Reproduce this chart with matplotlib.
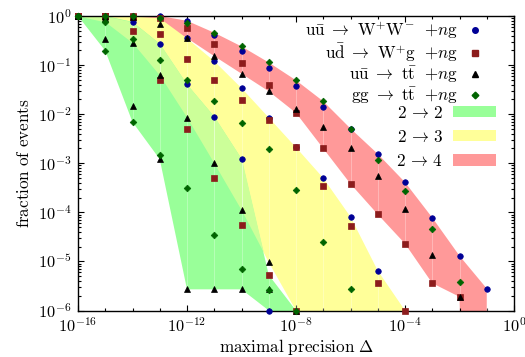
import numpy as np
import matplotlib
matplotlib.use('Agg')
import matplotlib.pyplot as plt
from matplotlib.lines import Line2D
from matplotlib.patches import Patch
from matplotlib.ticker import FixedLocator, LogLocator, NullFormatter

plt.rcParams['mathtext.fontset'] = 'cm'
plt.rcParams['font.family'] = 'serif'
plt.rcParams['font.size'] = 12.3

# maximal precision Delta, one point per decade (1e-16 ... 1e0)
delta = 10.0 ** np.arange(-16, 1)

# fraction of events, 0 = no event left
ww_22 = [1, 1, 0.76, 0.272, 0.0405, 0.0089, 0.00123, 1e-6, 0, 0, 0, 0, 0, 0, 0, 0, 0]
ww_23 = [1, 1, 0.98, 0.9, 0.35, 0.12, 0.034, 0.0085, 0.0021, 5.0e-4, 8.1e-5, 6.5e-6, 0, 0, 0, 0, 0]
ww_24 = [1, 1, 1, 1, 0.8, 0.41, 0.196, 0.0885, 0.0369, 0.014, 0.0051, 0.00155, 4.1e-4, 7.8e-5, 1.3e-5, 2.8e-6, 0]

wg_22 = [1, 1, 0.5, 0.049, 0.0049, 4.9e-4, 5.4e-5, 5.3e-6, 1e-6, 0, 0, 0, 0, 0, 0, 0, 0]
wg_23 = [1, 1, 0.95, 0.42, 0.135, 0.049, 0.0192, 0.0075, 0.0021, 3.5e-4, 5.2e-5, 3.6e-6, 1e-6, 0, 0, 0, 0]
wg_24 = [1, 1, 1, 0.9, 0.575, 0.272, 0.112, 0.04, 0.0106, 0.002, 3.8e-4, 9.1e-5, 2.3e-5, 3.6e-6, 1.9e-6, 0, 0]

tt_22 = [1, 0.333, 0.015, 0.00121, 2.7e-6, 2.7e-6, 2.7e-6, 2.7e-6, 0, 0, 0, 0, 0, 0, 0, 0, 0]
tt_23 = [1, 0.9, 0.285, 0.0618, 0.0085, 9.9e-4, 1.1e-4, 9.6e-6, 1e-6, 0, 0, 0, 0, 0, 0, 0, 0]
tt_24 = [1, 1, 0.95, 0.69, 0.354, 0.152, 0.0668, 0.0292, 0.0126, 0.0055, 0.002, 5.5e-4, 1.17e-4, 1.36e-5, 1.9e-6, 0, 0]

gg_22 = [1, 0.196, 0.0069, 0.0015, 3.1e-4, 3.4e-5, 7.0e-6, 2.64e-6, 1e-6, 0, 0, 0, 0, 0, 0, 0, 0]
gg_23 = [1, 0.76, 0.333, 0.129, 0.049, 0.0185, 0.0066, 0.00194, 2.8e-4, 2.5e-5, 2.7e-6, 0, 0, 0, 0, 0, 0]
gg_24 = [1, 1, 1, 0.92, 0.71, 0.456, 0.24, 0.113, 0.049, 0.0183, 0.0051, 0.00119, 2.7e-4, 4.6e-5, 3.8e-6, 0, 0]

proc_labels = [r'$\mathrm{u\bar{u}}\ \rightarrow\ \mathrm{W^{+}W^{-}}\ \ {+}n\mathrm{g}$',
               r'$\mathrm{u\bar{d}}\ \rightarrow\ \mathrm{W^{+}g}\ \ {+}n\mathrm{g}$',
               r'$\mathrm{u\bar{u}}\ \rightarrow\ \mathrm{t\bar{t}}\ \ {+}n\mathrm{g}$',
               r'$\mathrm{gg}\ \rightarrow\ \mathrm{t\bar{t}}\ \ {+}n\mathrm{g}$']
band_labels = [r'$2\,\rightarrow\,2$', r'$2\,\rightarrow\,3$', r'$2\,\rightarrow\,4$']

procs = [([ww_22, ww_23, ww_24], 'o', '#000096', 4.0),
         ([wg_22, wg_23, wg_24], 's', '#8c1c1c', 3.8),
         ([tt_22, tt_23, tt_24], '^', 'black', 4.2),
         ([gg_22, gg_23, gg_24], 'D', '#006400', 3.4)]
band_colors = ['#99ff99', '#ffff99', '#ff9999']
overlap_color = '#ccff99'
FLOOR = 1e-30


def band(mult):
    arr = np.array([p[0][mult] for p in procs], dtype=float)
    n = np.nonzero((arr > 0).any(axis=0))[0][-1] + 1
    lo = np.where(arr > 0, arr, FLOOR).min(axis=0)[:n]
    hi = arr.max(axis=0)[:n]
    return delta[:n], lo, hi


def on_grid(xb, yb, xf):
    return 10 ** np.interp(np.log10(xf), np.log10(xb), np.log10(yb), left=-40, right=-40)


fig = plt.figure(figsize=(5.25, 3.57), dpi=100)
ax = fig.add_axes([78 / 525, 1 - 310.5 / 357, 436 / 525, 294.5 / 357])
ax.set_xscale('log')
ax.set_yscale('log')

bands = [band(m) for m in range(3)]
for m in (2, 1, 0):
    xb, lo, hi = bands[m]
    ax.fill_between(xb, lo, hi, color=band_colors[m], lw=0, zorder=1)

# overlap of 2->2 and 2->3 bands
xf = np.logspace(-16, 0, 1601)
g_lo, g_hi = (on_grid(bands[0][0], b, xf) for b in bands[0][1:])
y_lo, y_hi = (on_grid(bands[1][0], b, xf) for b in bands[1][1:])
o_lo = np.maximum(g_lo, y_lo)
o_hi = np.minimum(g_hi, y_hi)
ax.fill_between(xf, o_lo, o_hi, where=o_hi > o_lo, color=overlap_color, lw=0, zorder=1.5)

# faint seams between the filled segments
for xb, lo, hi in bands:
    ax.vlines(xb, np.maximum(lo, 1e-7), hi, colors='white', lw=0.6, alpha=0.35, zorder=1.8)

for series, mk, c, ms in procs:
    for s in series:
        s = np.array(s, dtype=float)
        keep = s > 0
        ax.plot(delta[keep], s[keep], ls='none', marker=mk, ms=ms, color=c,
                mec=c, mew=0.5, clip_on=False, zorder=3)

ax.set_xlim(1e-16, 1)
ax.set_ylim(1e-6, 1)
ax.set_xticks([1e-16, 1e-12, 1e-8, 1e-4, 1],
              [r'$10^{-16}$', r'$10^{-12}$', r'$10^{-8}$', r'$10^{-4}$', r'$10^{0}$'])
ax.xaxis.set_minor_locator(FixedLocator(delta))
ax.xaxis.set_minor_formatter(NullFormatter())
yt = 10.0 ** np.arange(-6, 1)
ax.set_yticks(yt, [r'$10^{%d}$' % k for k in range(-6, 1)])
ax.yaxis.set_minor_locator(LogLocator(base=10, subs=np.arange(2, 10)))
ax.yaxis.set_minor_formatter(NullFormatter())
ax.tick_params(which='both', direction='in', top=True, right=True, width=0.8)
ax.tick_params(which='major', length=4.5, pad=5, labelsize=11.8)
ax.tick_params(which='minor', length=2.3)
for sp in ax.spines.values():
    sp.set_linewidth(1.0)

ax.set_xlabel(r'$\mathrm{maximal\ precision}\ \Delta$', fontsize=12.3, labelpad=1)
ax.set_ylabel(r'$\mathrm{fraction\ of\ events}$', fontsize=12.3, labelpad=3)

h1 = [Line2D([], [], ls='none', marker=mk, ms=ms, color=c, mec=c) for _, mk, c, ms in procs]
leg1 = ax.legend(h1, proc_labels, loc='upper right', bbox_to_anchor=(485 / 525, 1 - 20 / 357),
                 bbox_transform=fig.transFigure, frameon=False, markerfirst=False,
                 handlelength=1.2, handletextpad=0.35, labelspacing=0.0,
                 borderpad=0, borderaxespad=0, fontsize=12.3)
ax.add_artist(leg1)
h2 = [Patch(facecolor=c, edgecolor='none') for c in band_colors]
ax.legend(h2, band_labels, loc='upper right', bbox_to_anchor=(496 / 525, 1 - 104.5 / 357),
          bbox_transform=fig.transFigure, frameon=False, markerfirst=False,
          handlelength=2.5, handleheight=0.65, handletextpad=0.6, labelspacing=0.42,
          borderpad=0, borderaxespad=0, fontsize=12.3)

fig.savefig('out.png', dpi=100)
